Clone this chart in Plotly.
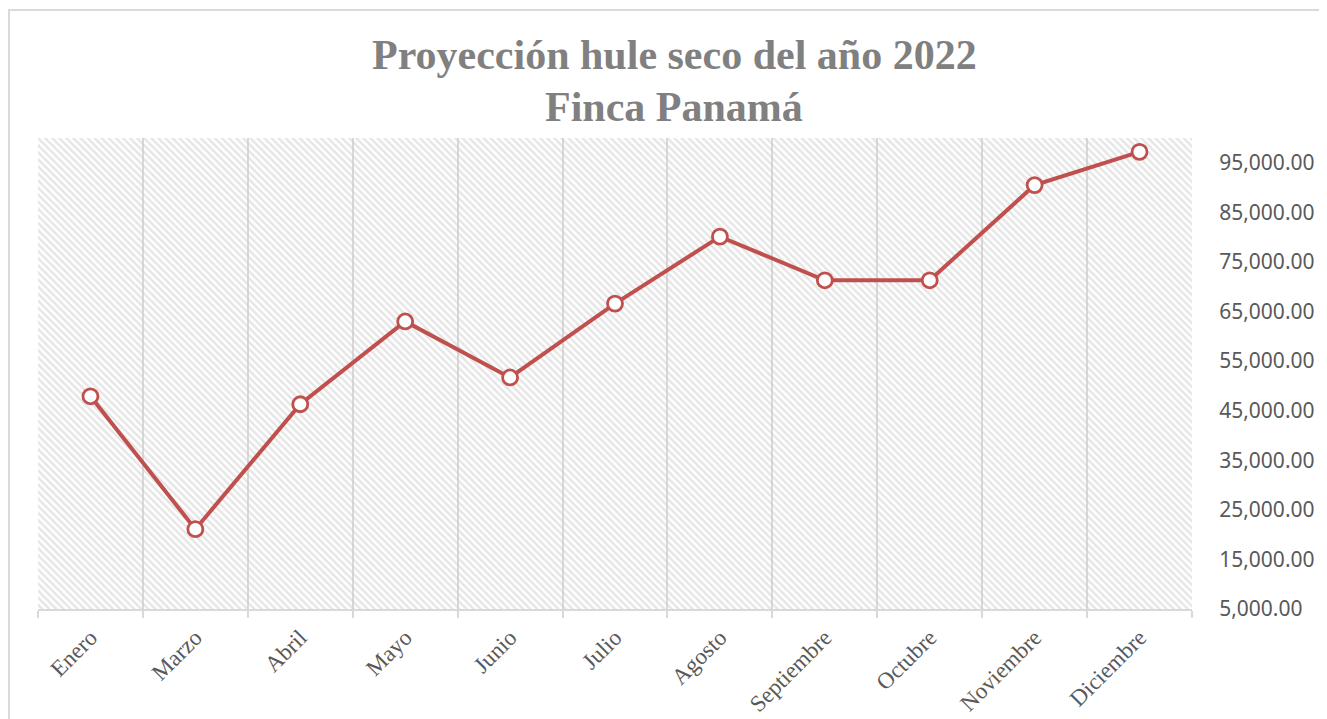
import plotly.graph_objects as go

months = ["Enero", "Marzo", "Abril", "Mayo", "Junio", "Julio", "Agosto",
          "Septiembre", "Octubre", "Noviembre", "Diciembre"]
hule_seco = [47900, 21100, 46300, 63000, 51700, 66600, 80100,
             71300, 71300, 90500, 97200]
y_ticks = [5000, 15000, 25000, 35000, 45000, 55000, 65000, 75000, 85000, 95000]
y_tick_labels = [f"{v:,.2f}" for v in y_ticks]
title_lines = ["Proyección hule seco del año 2022", "Finca Panamá"]

# page body has an 8px offset, so the figure is sized/placed to compensate
OFF = 8
W, H = 1327 - OFF, 719 - OFF
ML, MT = 38 - OFF, 138 - OFF
MR = W - (1192 - OFF)
MB = H - (609 - OFF)
PW, PH = W - ML - MR, H - MT - MB

RED = "#C0504D"
GRID = "#D9D9D9"
TXT = "#595959"

fig = go.Figure()

# hatched plot-area background (decorative)
fig.add_trace(go.Bar(
    x=[0.5], y=[1], width=[1], xaxis="x", yaxis="y",
    marker=dict(color="rgba(0,0,0,0)", line=dict(width=0),
                pattern=dict(shape="\\", fgcolor="#CDCDCD", bgcolor="rgba(0,0,0,0)",
                             size=5, solidity=0.5, fillmode="overlay")),
    hoverinfo="skip", showlegend=False,
))

fig.add_trace(go.Scatter(
    x=months, y=hule_seco, xaxis="x2", yaxis="y2",
    mode="lines+markers",
    line=dict(color=RED, width=4),
    marker=dict(symbol="circle", size=15, color="white", line=dict(color=RED, width=2.8)),
    showlegend=False,
))

# outer chart border
fig.add_shape(type="rect", xref="paper", yref="paper",
              x0=(9 - OFF - ML) / PW, x1=(W + 20 - ML) / PW,
              y0=-(H + 20 - MT - PH) / PH, y1=1 + (MT - (10 - OFF)) / PH,
              line=dict(color=GRID, width=2), fillcolor="rgba(0,0,0,0)", layer="below")

# title lines
for txt, yc in zip(title_lines, [55, 107]):
    fig.add_annotation(text=f"<b>{txt}</b>", xref="paper", yref="paper",
                       x=(674 - OFF - ML) / PW, y=1 + (MT - (yc - OFF)) / PH,
                       xanchor="center", yanchor="middle", showarrow=False,
                       font=dict(family="Liberation Serif", size=42, color="#808080"))

fig.update_layout(
    width=W, height=H,
    margin=dict(l=ML, r=MR, t=MT, b=MB, autoexpand=False),
    paper_bgcolor="white", plot_bgcolor="white",
    xaxis=dict(range=[0, 1], visible=False, fixedrange=True, automargin=False),
    yaxis=dict(range=[0, 1], visible=False, fixedrange=True, automargin=False),
    xaxis2=dict(overlaying="x", anchor="y2", side="bottom", type="category",
                automargin=False,
                tickson="boundaries", ticks="outside", ticklen=7, tickcolor=GRID, tickwidth=2,
                showgrid=True, gridcolor=GRID, gridwidth=2,
                showline=True, linecolor=GRID, linewidth=2,
                tickangle=-45, ticklabelstandoff=4,
                tickfont=dict(family="Liberation Serif", size=23, color=TXT),
                range=[-0.5, len(months) - 0.5]),
    yaxis2=dict(overlaying="y", anchor="x2", side="right", automargin=False,
                range=[5000, 100000], tickvals=y_ticks, ticktext=y_tick_labels,
                showgrid=False, zeroline=False, showline=False,
                ticks="outside", ticklen=22, tickcolor="rgba(0,0,0,0)",
                tickfont=dict(family="Noto Sans", size=21, color=TXT)),
)

fig.write_html("out.html")
